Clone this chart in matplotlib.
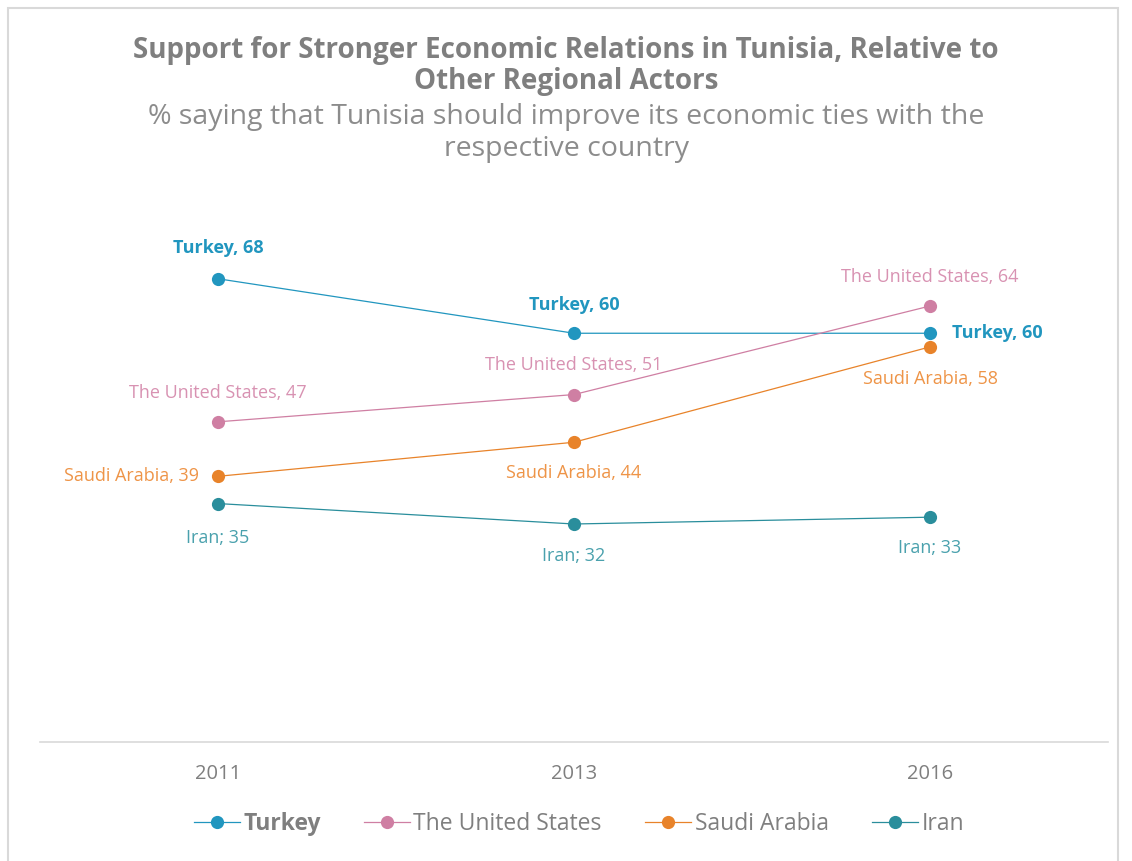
import matplotlib.pyplot as plt
from matplotlib.patches import Rectangle

plt.rcParams['font.family'] = ['Open Sans', 'DejaVu Sans']

years = ['2011', '2013', '2016']
series = ['Turkey', 'The United States', 'Saudi Arabia', 'Iran']
turkey = [68, 60, 60]
united_states = [47, 51, 64]
saudi_arabia = [39, 44, 58]
iran = [35, 32, 33]

line_colors = ['#2196bf', '#cf7fa3', '#e8832a', '#2a8e9c']
text_colors = ['#2196bf', '#d892b2', '#ee9447', '#4aa1ad']
gray = '#7f7f7f'

fig = plt.figure(figsize=(11.32, 8.61), dpi=100)
fig.patches.append(Rectangle((8 / 1132, -0.1), 1110 / 1132, 1.1 - 8 / 861,
                             transform=fig.transFigure, fill=False,
                             edgecolor='#d9d9d9', linewidth=1.5))

ax = fig.add_axes([40 / 1132, 1 - 742 / 861, 1068 / 1132, 545 / 861])
x = range(len(years))
all_values = [turkey, united_states, saudi_arabia, iran]
for name, vals, c in zip(series, all_values, line_colors):
    ax.plot(x, vals, color=c, lw=0.9, marker='o', markersize=9.5,
            markeredgewidth=0, label=name)

ax.set_xlim(-0.5, 2.5)
ax.set_ylim(0, 80)
ax.set_yticks([])
ax.set_xticks(list(x))
ax.set_xticklabels(years, fontsize=14.5, color=gray)
ax.tick_params(axis='x', length=0, pad=16)
for s in ['top', 'right', 'left']:
    ax.spines[s].set_visible(False)
ax.spines['bottom'].set_color('#d9d9d9')
ax.spines['bottom'].set_linewidth(1.2)


def lab(i, v, text, color, dx, dy, ha='center', bold=False):
    ax.annotate(text, (i, v), xytext=(dx, dy), textcoords='offset points',
                ha=ha, va='center', color=color, fontsize=13,
                fontweight='bold' if bold else 'normal')


# Turkey
lab(0, turkey[0], 'Turkey, 68', text_colors[0], 0, 22, bold=True)
lab(1, turkey[1], 'Turkey, 60', text_colors[0], 0, 20, bold=True)
lab(2, turkey[2], 'Turkey, 60', text_colors[0], 16, 0, ha='left', bold=True)
# United States
lab(0, united_states[0], 'The United States, 47', text_colors[1], 0, 21)
lab(1, united_states[1], 'The United States, 51', text_colors[1], 0, 21)
lab(2, united_states[2], 'The United States, 64', text_colors[1], 0, 21)
# Saudi Arabia
lab(0, saudi_arabia[0], 'Saudi Arabia, 39', text_colors[2], -14, 0, ha='right')
lab(1, saudi_arabia[1], 'Saudi Arabia, 44', text_colors[2], 0, -22)
lab(2, saudi_arabia[2], 'Saudi Arabia, 58', text_colors[2], 0, -23)
# Iran
lab(0, iran[0], 'Iran; 35', text_colors[3], 0, -25)
lab(1, iran[1], 'Iran; 32', text_colors[3], 0, -23)
lab(2, iran[2], 'Iran; 33', text_colors[3], 0, -22)

fig.text(0.5, 1 - 66 / 861, 'Support for Stronger Economic Relations in Tunisia, Relative to\nOther Regional Actors',
         ha='center', va='center', fontsize=20, fontweight='bold', color=gray,
         linespacing=1.12)
fig.text(0.5, 1 - 133 / 861, '% saying that Tunisia should improve its economic ties with the\nrespective country',
         ha='center', va='center', fontsize=20.5, color='#8c8c8c', linespacing=1.15)

leg = fig.legend(loc='center', bbox_to_anchor=(579 / 1132, 1 - 824 / 861), ncol=4,
                 frameon=False, fontsize=16.5, handlelength=2.0, columnspacing=1.9,
                 handletextpad=0.15)
for t in leg.get_texts():
    t.set_color(gray)
leg.get_texts()[0].set_fontweight('bold')
for h in leg.legend_handles:
    h.set_markersize(9.5)

fig.savefig('out.png', dpi=100)
